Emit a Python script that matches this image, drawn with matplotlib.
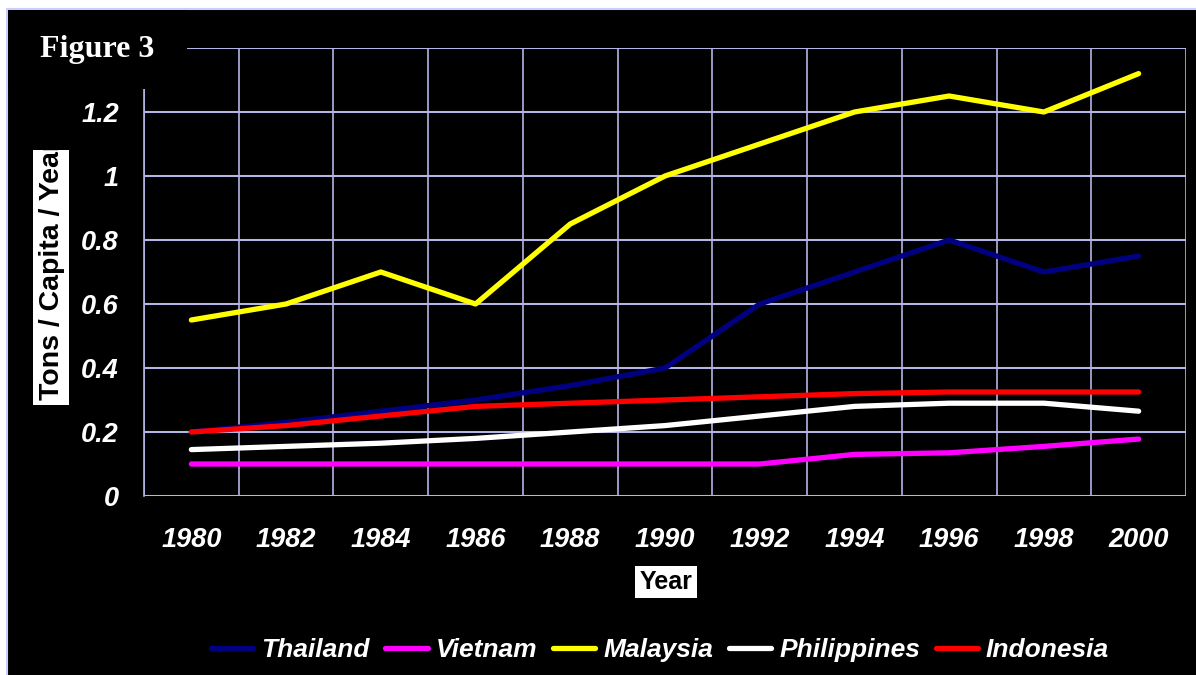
import numpy as np
import matplotlib
matplotlib.use("Agg")
import matplotlib.pyplot as plt
import matplotlib.patches as mpatches

years = [1980, 1982, 1984, 1986, 1988, 1990, 1992, 1994, 1996, 1998, 2000]

thailand = [0.20, 0.23, 0.265, 0.30, 0.345, 0.40, 0.60, 0.70, 0.80, 0.70, 0.75]
vietnam = [0.10, 0.10, 0.10, 0.10, 0.10, 0.10, 0.10, 0.13, 0.135, 0.155, 0.178]
malaysia = [0.55, 0.60, 0.70, 0.60, 0.85, 1.00, 1.10, 1.20, 1.25, 1.20, 1.32]
philippines = [0.145, 0.155, 0.165, 0.18, 0.20, 0.22, 0.25, 0.28, 0.29, 0.29, 0.265]
indonesia = [0.20, 0.22, 0.25, 0.28, 0.29, 0.30, 0.31, 0.32, 0.325, 0.325, 0.325]

series = [
    ("Thailand", thailand, "#000080"),
    ("Vietnam", vietnam, "#FF00FF"),
    ("Malaysia", malaysia, "#FFFF00"),
    ("Philippines", philippines, "#FFFFFF"),
    ("Indonesia", indonesia, "#FF0000"),
]

W, H = 1196, 675
GRID = "#B4B4E6"
BORDER = "#CCCCFF"

fig = plt.figure(figsize=(W / 100, H / 100), dpi=100, facecolor="white")

# black panel with a lavender edge
panel = mpatches.Rectangle((7 / W, -0.05), 1.2, 1 - 9 / H + 0.05, transform=fig.transFigure,
                           facecolor="black", edgecolor=BORDER, linewidth=1.5, zorder=-10)
fig.patches.append(panel)

ax = fig.add_axes([144 / W, 1 - 496 / H, (1186 - 144) / W, (496 - 48) / H])
ax.set_facecolor("black")

x = np.arange(len(years))
for name, vals, color in series:
    ax.plot(x, vals, color=color, linewidth=3.8, label=name, solid_capstyle="round", zorder=3)

ax.set_xlim(-0.5, len(years) - 0.5)
ax.set_ylim(0, 1.4)

ax.set_xticks(x)
ax.set_xticklabels([str(y) for y in years])
ax.set_xticks(np.arange(-0.5, len(years), 1), minor=True)
yt = np.arange(0, 1.41, 0.2)
ax.set_yticks(yt)
# the 1.4 label sits under the title block, so leave it blank
ax.set_yticklabels(["0", "0.2", "0.4", "0.6", "0.8", "1", "1.2", ""])

for lab in ax.get_xticklabels() + ax.get_yticklabels():
    lab.set_fontfamily("Liberation Sans")
    lab.set_fontweight("bold")
    lab.set_fontstyle("italic")
    lab.set_fontsize(19.5)
    lab.set_color("white")

ax.tick_params(axis="both", which="both", length=0)
ax.tick_params(axis="x", pad=22)
ax.tick_params(axis="y", pad=18)

ax.grid(which="minor", axis="x", color=GRID, linewidth=1.2)
ax.grid(which="major", axis="y", color=GRID, linewidth=1.5)
ax.grid(which="major", axis="x", visible=False)

for side in ["top", "bottom", "right"]:
    ax.spines[side].set_visible(False)
ax.spines["left"].set_color(GRID)
ax.spines["left"].set_linewidth(1.2)

# title block covering the top-left corner
cover = mpatches.Rectangle((8 / W, 1 - 89 / H), (187 - 8) / W, (89 - 10) / H,
                           transform=fig.transFigure, facecolor="black", edgecolor="none", zorder=5)
fig.patches.append(cover)
fig.text(40 / W, 1 - 49 / H, "Figure 3", color="white", fontsize=23, fontweight="bold",
         family="Liberation Serif", ha="left", va="center", zorder=6)

# y label in a white box, clipped at the top
ybox = mpatches.Rectangle((33 / W, 1 - 405 / H), 36 / W, (405 - 150) / H,
                          transform=fig.transFigure, facecolor="white", edgecolor="none", zorder=6)
fig.patches.append(ybox)
yl = fig.text(52 / W, 1 - 400 / H, "Tons / Capita / Year", rotation=90, color="black",
              fontsize=20.5, fontweight="bold", family="Liberation Sans",
              ha="center", va="bottom", zorder=7)
yl.set_clip_path(ybox)

fig.text(666 / W, 1 - 582 / H, "Year", color="black", fontsize=18, fontweight="bold",
         family="Liberation Sans", ha="center", va="center", zorder=7,
         bbox=dict(facecolor="white", edgecolor="none", pad=3))

leg = fig.legend(loc="center", bbox_to_anchor=(660 / W, 1 - 650 / H), ncol=5, frameon=False,
                 handlelength=1.6, handletextpad=0.3, columnspacing=0.6,
                 prop=dict(family="Liberation Sans", weight="bold", style="italic", size=19))
for t in leg.get_texts():
    t.set_color("white")

fig.savefig("out.png", dpi=100, facecolor="white")
